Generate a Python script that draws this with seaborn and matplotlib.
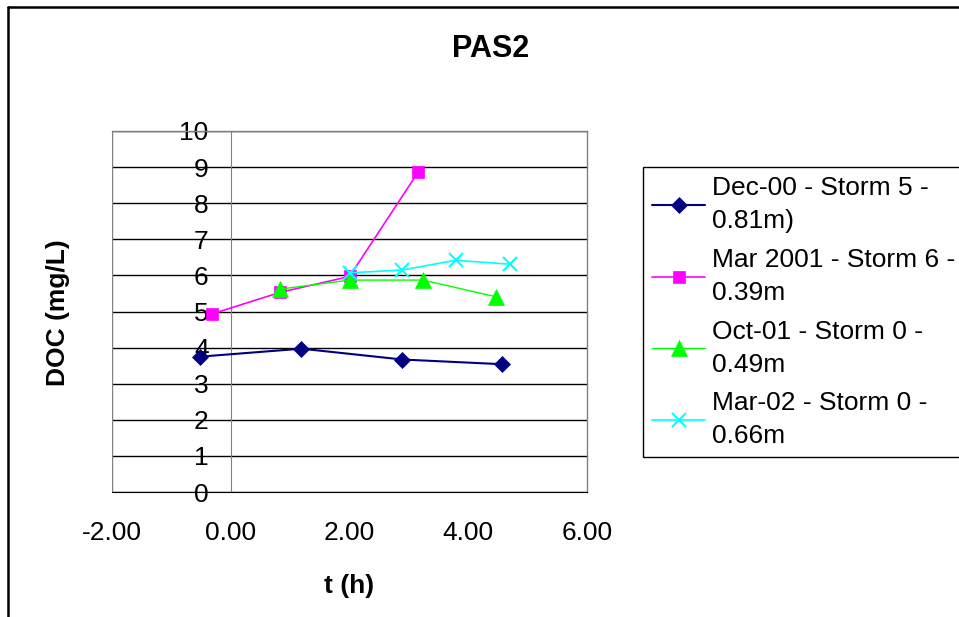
import numpy as np
import pandas as pd
import matplotlib
matplotlib.use('Agg')
import matplotlib.pyplot as plt
import seaborn as sns
from matplotlib.lines import Line2D

sns.set_style('white')
plt.rcParams['font.family'] = ['Liberation Sans', 'DejaVu Sans']
plt.rcParams['text.color'] = 'black'
plt.rcParams['xtick.labelcolor'] = 'black'
plt.rcParams['ytick.labelcolor'] = 'black'
plt.rcParams['axes.labelcolor'] = 'black'

# Data
dec00_t = [-0.51, 1.19, 2.89, 4.57]
dec00_doc = [3.75, 3.97, 3.67, 3.54]

mar01_t = [-0.32, 0.83, 2.00, 3.16]
mar01_doc = [4.93, 5.53, 5.97, 8.87]

oct01_t = [0.83, 2.00, 3.24, 4.46]
oct01_doc = [5.62, 5.87, 5.87, 5.41]

mar02_t = [2.00, 2.89, 3.79, 4.70]
mar02_doc = [6.07, 6.15, 6.42, 6.31]

series_names = ['Dec-00 - Storm 5 -\n0.81m)',
                'Mar 2001 - Storm 6 -\n0.39m',
                'Oct-01 - Storm 0 -\n0.49m',
                'Mar-02 - Storm 0 -\n0.66m']
x_ticks = [-2, 0, 2, 4, 6]
y_ticks = list(range(0, 11))

colors = ['#000080', '#FF00FF', '#00FF00', '#00FFFF']
markers = ['D', 's', '^', 'x']
msizes = [8.5, 9, 11, 10]
lwidths = [1.5, 1.2, 1.0, 1.2]
FS = 19

# long-format table for seaborn
frames = []
for name, t, d in zip(series_names,
                      [dec00_t, mar01_t, oct01_t, mar02_t],
                      [dec00_doc, mar01_doc, oct01_doc, mar02_doc]):
    frames.append(pd.DataFrame({'t': t, 'doc': d, 'series': name}))
df = pd.concat(frames, ignore_index=True)

fig = plt.figure(figsize=(9.59, 6.17), dpi=100)
ax = fig.add_axes([112 / 959, 1 - 492 / 617, 475 / 959, 361 / 617])

for i, name in enumerate(series_names):
    sub = df[df['series'] == name]
    sns.lineplot(data=sub, x='t', y='doc', ax=ax, color=colors[i],
                 marker=markers[i], markersize=msizes[i],
                 markeredgecolor=colors[i], markeredgewidth=1.5 if markers[i] == 'x' else 0.5,
                 linewidth=lwidths[i], sort=False, estimator=None, legend=False,
                 zorder=3)

ax.set_xlim(-2, 6)
ax.set_ylim(0, 10)
ax.set_xticks(x_ticks)
ax.set_xticklabels([f'{v:.2f}' for v in x_ticks])
ax.set_yticks(y_ticks)
ax.set_yticklabels([str(v) for v in y_ticks])
ax.set_ylabel('')

# horizontal gridlines
for v in y_ticks:
    ax.axhline(v, color='black', linewidth=1.0, zorder=1)

# plot area border in grey, y axis crossing at x = 0
for side in ['top', 'right']:
    ax.spines[side].set_color('#808080')
    ax.spines[side].set_linewidth(1.0)
ax.spines['bottom'].set_color('black')
ax.spines['left'].set_position(('data', 0))
ax.spines['left'].set_color('#808080')
ax.axvline(-2, color='#808080', linewidth=1.0, zorder=1)

ax.tick_params(axis='x', direction='out', length=7, width=1, color='#808080',
               labelsize=FS, pad=14)
ax.tick_params(axis='y', direction='out', length=7, width=1, color='#808080',
               labelsize=FS, pad=9)
ax.grid(False)

ax.set_xlabel('t (h)', fontsize=FS, fontweight='bold', labelpad=21)
fig.text(58 / 959, 1 - 313 / 617, 'DOC (mg/L)', rotation=90, fontsize=FS,
         fontweight='bold', ha='center', va='center')
fig.text(491 / 959, 1 - 49 / 617, 'PAS2', fontsize=22, fontweight='bold',
         ha='center', va='center')

handles = [Line2D([0], [0], color=colors[i], marker=markers[i], markersize=msizes[i],
                  markeredgecolor=colors[i], markeredgewidth=1.5 if markers[i] == 'x' else 0.5,
                  linewidth=lwidths[i])
           for i in range(len(series_names))]
leg = ax.legend(handles, series_names, loc='upper left',
                bbox_to_anchor=(643 / 959, 1 - 167 / 617), bbox_transform=fig.transFigure,
                fontsize=FS, frameon=True, fancybox=False, framealpha=1,
                edgecolor='black', handlelength=2.0, handletextpad=0.27,
                labelspacing=0.55, borderpad=0.35, borderaxespad=0)
leg.get_frame().set_linewidth(1.0)
for txt in leg.get_texts():
    txt.set_linespacing(1.48)

# outer chart border (left and top edges visible)
fig.add_artist(Line2D([8 / 959, 8 / 959], [0, 1 - 7 / 617], color='black',
                      linewidth=1.8, transform=fig.transFigure))
fig.add_artist(Line2D([8 / 959, 1], [1 - 7 / 617, 1 - 7 / 617], color='black',
                      linewidth=1.8, transform=fig.transFigure))

fig.savefig('out.png', dpi=100)
